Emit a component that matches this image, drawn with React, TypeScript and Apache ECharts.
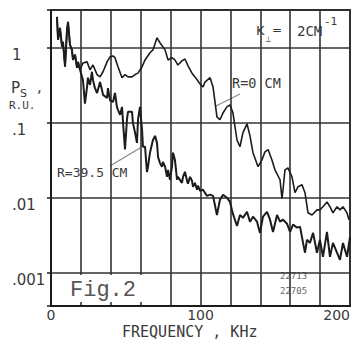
import React, { useEffect, useRef } from 'react';
import * as echarts from 'echarts';

// Frequency (kHz) and spectral power P_S (relative units)
const freqR0 = [4.0, 4.7, 6.0, 7.4, 8.0, 9.4, 10.7, 11.4, 12.7, 14.0, 14.7, 16.1, 17.4, 18.1, 19.4,
  21.4, 24.1, 26.1, 28.1, 30.8, 32.8, 34.8, 37.5, 39.5, 41.5, 42.8, 44.8, 47.5, 49.5, 51.5,
  54.2, 56.2, 58.2, 60.9, 62.9, 66.2, 68.2, 70.9, 72.9, 76.3, 78.3, 80.9, 82.9, 84.9, 87.6,
  89.6, 91.6, 94.3, 96.3, 99.7, 101.7, 103.0, 106.4, 108.4, 111.0, 113.0, 115.1, 117.7, 119.7, 121.7,
  124.4, 126.4, 128.4, 131.1, 133.1, 135.1, 138.5, 141.1, 143.1, 145.2, 147.8, 149.8, 153.2, 154.5, 155.2,
  156.5, 158.5, 161.2, 163.2, 165.2, 167.9, 169.9, 171.9, 174.6, 177.9, 179.9, 181.9, 184.6, 186.6, 188.6,
  191.3, 193.3, 195.3, 198.0, 199.3];
const psR0 = [2.59, 1.28, 1.85, 1.03, 1.20, 0.56, 1.74, 2.22, 1.10, 0.94, 0.69, 0.81, 0.54, 0.65, 0.51,
  0.63, 0.65, 0.51, 0.59, 0.44, 0.41, 0.48, 0.65, 0.76, 0.78, 0.74, 0.56, 0.40, 0.44, 0.41,
  0.41, 0.44, 0.46, 0.56, 0.69, 0.86, 0.94, 1.36, 1.17, 0.94, 0.69, 0.74, 0.69, 0.59, 0.67,
  0.71, 0.58, 0.46, 0.41, 0.33, 0.30, 0.35, 0.40, 0.30, 0.12, 0.11, 0.136, 0.163, 0.174, 0.136,
  0.059, 0.048, 0.074, 0.097, 0.067, 0.040, 0.026, 0.032, 0.041, 0.044, 0.032, 0.0236, 0.0174, 0.0098, 0.0128,
  0.0236, 0.025, 0.019, 0.0117, 0.014, 0.0149, 0.0117, 0.0063, 0.0059, 0.0069, 0.0069, 0.0076, 0.0088, 0.0076, 0.0063,
  0.0076, 0.0069, 0.0076, 0.0063, 0.0051];

const freqR39 = [4.0, 4.7, 6.0, 7.4, 8.0, 9.4, 10.7, 11.4, 12.7, 14.0, 14.7, 16.1, 17.4, 18.1, 19.4,
  21.4, 22.7, 24.1, 24.7, 26.1, 27.4, 28.1, 29.4, 30.8, 32.8, 34.1, 34.8, 37.5, 38.1, 39.5,
  41.5, 42.8, 44.1, 44.8, 46.2, 47.5, 48.2, 49.5, 50.8, 51.5, 54.2, 54.8, 56.2, 57.5, 58.2,
  59.5, 60.9, 61.5, 62.9, 64.2, 64.9, 66.2, 68.2, 69.6, 70.9, 71.6, 72.9, 74.2, 74.9, 76.3,
  77.6, 78.3, 79.6, 80.9, 81.6, 82.9, 84.3, 84.9, 87.6, 88.3, 89.6, 91.0, 91.6, 93.0, 94.3,
  95.0, 96.3, 97.7, 98.3, 99.7, 101.7, 104.3, 106.4, 108.4, 111.0, 113.0, 115.1, 117.7, 119.7, 121.7,
  124.4, 126.4, 128.4, 131.1, 133.1, 135.1, 137.8, 139.8, 141.8, 144.5, 146.5, 148.5, 151.2, 153.2, 155.2,
  157.9, 159.9, 161.9, 164.5, 166.6, 168.6, 169.9, 171.2, 173.2, 175.3, 177.9, 179.9, 181.9, 184.6, 186.6,
  188.6, 191.3, 193.3, 195.3, 198.0, 200.0];
const psR39 = [2.59, 1.28, 1.85, 1.03, 1.20, 0.56, 1.74, 2.22, 1.10, 0.94, 0.69, 0.81, 0.54, 0.65, 0.51,
  0.37, 0.18, 0.30, 0.40, 0.32, 0.48, 0.37, 0.29, 0.25, 0.35, 0.275, 0.236, 0.215, 0.29, 0.20,
  0.19, 0.25, 0.163, 0.149, 0.128, 0.163, 0.10, 0.044, 0.11, 0.14, 0.14, 0.10, 0.074, 0.054, 0.11,
  0.163, 0.081, 0.048, 0.048, 0.022, 0.026, 0.040, 0.059, 0.067, 0.054, 0.035, 0.029, 0.026, 0.030, 0.026,
  0.019, 0.0236, 0.0174, 0.026, 0.040, 0.032, 0.0174, 0.019, 0.0158, 0.019, 0.0222, 0.0169, 0.0154, 0.019, 0.0169,
  0.014, 0.0158, 0.0128, 0.0145, 0.0124, 0.0128, 0.0106, 0.011, 0.0106, 0.0059, 0.0094, 0.011, 0.010, 0.0088, 0.0061,
  0.0042, 0.0059, 0.0054, 0.0065, 0.0048, 0.0056, 0.0048, 0.0034, 0.0056, 0.0065, 0.0051, 0.0035, 0.0059, 0.0048, 0.0051,
  0.0045, 0.0035, 0.0044, 0.0040, 0.0041, 0.0025, 0.00185, 0.00275, 0.0025, 0.0034, 0.00185, 0.00275, 0.00163, 0.0035, 0.00163,
  0.0025, 0.00185, 0.00149, 0.0025, 0.00163, 0.0030];

const xLabelValues = [0, 100, 200];
const xTickLabels = ['0', '100', '200'];
const yTickValues = [1, 0.1, 0.01, 0.001];
const yTickLabels = ['1', '.1', '.01', '.001'];

const INK = '#1c1c1c';
const GRID = '#333';
const TEXT = '#3a3a3a';

export default function App() {
  const ref = useRef<HTMLDivElement>(null);
  useEffect(() => {
    if (!ref.current) return;
    const chart = echarts.init(ref.current, undefined, { renderer: 'svg' });
    const zip = (xs: number[], ys: number[]) => xs.map((x, i) => [x, ys[i]]);
    const option: any = {
      animation: false,
      backgroundColor: '#fff',
      grid: { left: 51, right: 3, top: 10, bottom: 33, show: true, borderColor: INK, borderWidth: 1.8 },
      xAxis: {
        type: 'value', min: 0, max: 200, interval: 20,
        axisLine: { show: true, lineStyle: { color: INK, width: 2 } },
        axisTick: { show: false },
        splitLine: { show: true, lineStyle: { color: GRID, width: 1.6 } },
        axisLabel: {
          formatter: (v: number) => {
            const i = xLabelValues.indexOf(Math.round(v));
            return i >= 0 ? xTickLabels[i] : '';
          },
          fontFamily: 'DejaVu Sans', fontSize: 14, color: TEXT, margin: 2,
          showMinLabel: true, showMaxLabel: true, alignMaxLabel: 'right',
        },
      },
      yAxis: {
        type: 'log', logBase: 10, min: 0.00036, max: 3.2,
        axisLine: { show: true, lineStyle: { color: INK, width: 2 } },
        axisTick: { show: true, length: 4, lineStyle: { color: INK, width: 1.5 } },
        splitLine: { show: true, lineStyle: { color: GRID, width: 1.6 } },
        axisLabel: {
          formatter: (v: number) => {
            const i = yTickValues.findIndex((t) => Math.abs(Math.log10(v) - Math.log10(t)) < 0.01);
            return i >= 0 ? yTickLabels[i] : '';
          },
          align: 'left', verticalAlign: 'top', margin: 39,
          fontFamily: 'DejaVu Sans', fontSize: 15, color: TEXT,
        },
      },
      series: [
        {
          name: 'R=0 cm', type: 'line', data: zip(freqR0, psR0), showSymbol: false,
          lineStyle: { color: INK, width: 1.6 }, z: 3,
        },
        {
          name: 'R=39.5 cm', type: 'line', data: zip(freqR39, psR39), showSymbol: false,
          lineStyle: { color: INK, width: 2 }, z: 3,
        },
      ],
      graphic: [
        { type: 'rect', shape: { x: 53, y: 275, width: 115, height: 27 }, style: { fill: '#fff' }, z: 100 },
        { type: 'text', x: 70, y: 279, z: 101, style: { text: 'Fig.2', font: '22px "Liberation Mono"', fill: '#555' } },
        { type: 'text', x: 122, y: 324, style: { text: 'FREQUENCY , KHz', font: '15px "DejaVu Sans Mono"', fill: TEXT } },
        { type: 'text', x: 11, y: 80, style: { text: 'P', font: '15px "DejaVu Sans"', fill: TEXT } },
        { type: 'text', x: 20, y: 88, style: { text: 'S', font: '11px "DejaVu Sans"', fill: TEXT } },
        { type: 'text', x: 37, y: 79, style: { text: ',', font: '15px "DejaVu Sans"', fill: TEXT } },
        { type: 'text', x: 9, y: 100, style: { text: 'R.U.', font: '11px "DejaVu Sans Mono"', fill: TEXT } },
        { type: 'text', x: 256, y: 24, style: { text: 'K', font: '13px "DejaVu Sans"', fill: TEXT } },
        { type: 'text', x: 265, y: 35, style: { text: '⊥', font: '8px "DejaVu Sans"', fill: TEXT } },
        { type: 'text', x: 272, y: 24, style: { text: '=', font: '12px "DejaVu Sans"', fill: TEXT } },
        { type: 'text', x: 297, y: 24, style: { text: '2CM', font: '14px "DejaVu Sans Mono"', fill: TEXT } },
        { type: 'text', x: 324, y: 16, style: { text: '-1', font: '11px "DejaVu Sans Mono"', fill: TEXT } },
        { type: 'text', x: 232, y: 76, style: { text: 'R=0 CM', font: '13.5px "DejaVu Sans Mono"', fill: TEXT } },
        { type: 'text', x: 57, y: 166, style: { text: 'R=39.5 CM', font: '13px "DejaVu Sans Mono"', fill: TEXT } },
        { type: 'line', shape: { x1: 216, y1: 106, x2: 240, y2: 94 }, style: { stroke: '#888', lineWidth: 1.2 } },
        { type: 'line', shape: { x1: 110, y1: 166, x2: 140, y2: 148 }, style: { stroke: '#888', lineWidth: 1.2 } },
        { type: 'text', x: 280, y: 271, style: { text: '22713', font: '9px "DejaVu Sans Mono"', fill: '#666' } },
        { type: 'text', x: 280, y: 286, style: { text: '22705', font: '9px "DejaVu Sans Mono"', fill: '#666' } },
      ],
    };
    chart.setOption(option);
    return () => chart.dispose();
  }, []);
  return (
    <div
      ref={ref}
      style={{ position: 'fixed', left: 0, top: 0, width: 353, height: 339, background: '#fff' }}
    />
  );
}
